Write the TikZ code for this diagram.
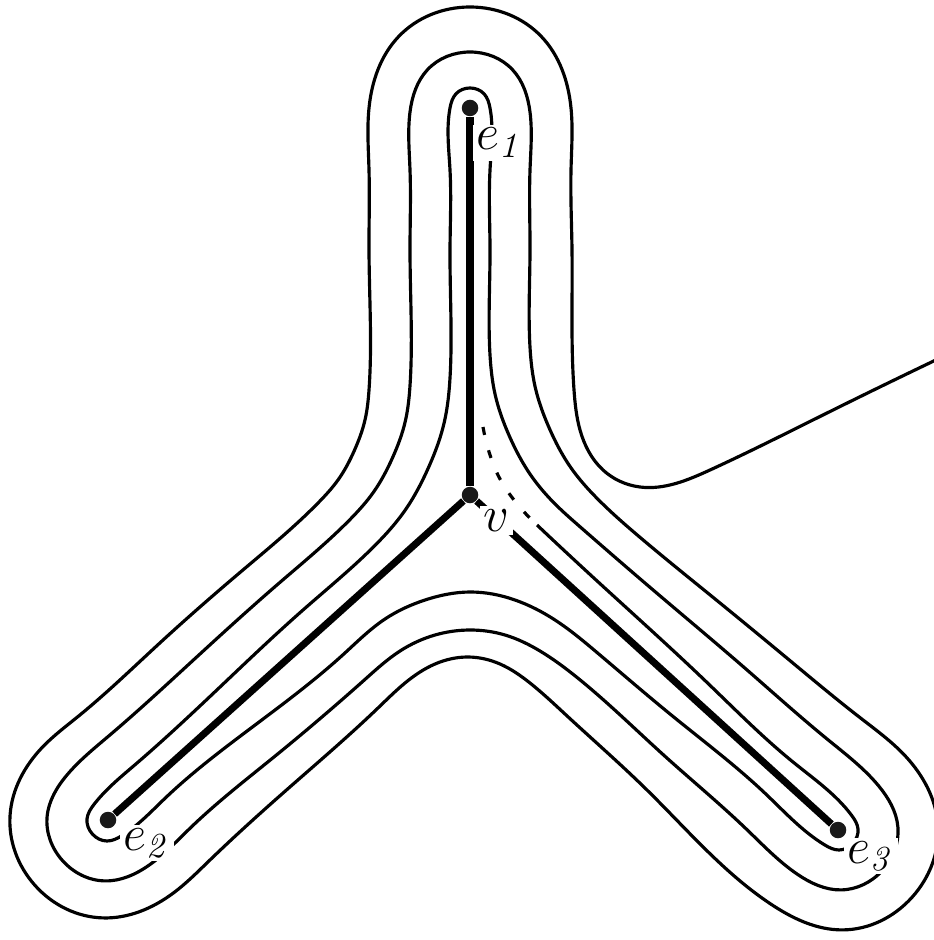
\documentclass[tikz,border=0pt]{standalone}
\usepackage{tikz}
\usetikzlibrary{hobby}

\begin{document}
\begin{tikzpicture}[
  x=0.01cm, y=-0.01cm,
  vertex/.style={circle, fill=black!90, inner sep=0pt, minimum size=0.165cm},
  treeedge/.style={line width=2pt},
  loopline/.style={line width=0.9pt, line join=round, use Hobby shortcut},
  lbl/.style={fill=white, inner sep=1pt, font=\Large, anchor=base west}
]
\useasboundingbox (0,0) rectangle (933,940);
% the curve winding three times round the tree
\draw[loopline, dash pattern=on 2.3pt off 4.5pt]
  (483,427) .. (490,455) .. (500,479) .. (514,500) .. (537,525);
\draw[loopline]
  (537,525) .. (595.7,579.7) .. (706,681.5) .. (794.1,762.9) .. (851.5,815.2)
  .. (858,829.1) .. (852.8,843.5) .. (839,850) .. (824.5,844.8)
  .. (765.8,794) .. (673.7,717) .. (597,652.5) .. (555,620) .. (515,600)
  .. (470,592) .. (425,600) .. (385,619) .. (343.9,653.9)
  .. (249.9,728.9) .. (164.7,798.6) .. (122,835.6)
  .. (106.9,841) .. (92.4,834) .. (87,818.9) .. (94,804.4)
  .. (134.6,765.1) .. (215.9,690.9) .. (303.8,609.3) .. (375.6,544.8)
  .. (404.5,511.1) .. (428.2,468.2) .. (444.3,422.1) .. (450,378)
  .. (450,250) .. (450,170) .. (450,108)
  .. (455.9,93.9) .. (470,88) .. (484.1,93.9) .. (490,108)
  .. (490,170) .. (490,250) .. (490,355) .. (495.2,394.9) .. (509.5,436.4)
  .. (530.5,474.8) .. (556.6,505.5) .. (578,525)
  .. (653.6,590.4) .. (745,668.2) .. (828.4,740.1) .. (878.4,785.6)
  .. (897.9,827.2) .. (882.4,870.4) .. (840.8,889.9) .. (797.6,874.4)
  .. (746.9,829.6) .. (664.9,756.2) .. (575.5,676.2) .. (540,651)
  .. (505,635) .. (470,630) .. (435,635) .. (400,651) .. (366,678.5)
  .. (274.7,756.4) .. (190.7,827.6) .. (148.7,865.4)
  .. (104.7,880.9) .. (62.6,860.7) .. (47.1,816.7) .. (67.3,774.6)
  .. (108.6,736.1) .. (190.5,662.7) .. (279.8,582.5) .. (350.5,519)
  .. (373.6,492) .. (392.5,457.8) .. (405.4,420.8) .. (410,385.6)
  .. (410,250) .. (410,170) .. (410,112)
  .. (427.6,69.6) .. (470,52) .. (512.4,69.6) .. (530,112)
  .. (530,170) .. (530,250) .. (530,347.3) .. (535.2,387.2) .. (549.5,428.7)
  .. (570.6,467.3) .. (596.6,497.9) .. (638.3,535.9)
  .. (714.1,598.2) .. (791.4,661.8) .. (861.4,718.7) .. (905.3,756)
  .. (937.9,825.3) .. (912,897.3) .. (842.7,929.9) .. (770.7,904)
  .. (647.4,790.4) .. (566.7,715.6) .. (530,683)
  .. (500,664) .. (468,657) .. (435,664) .. (405,683)
  .. (378.5,707.5) .. (289.2,787.6) .. (208.1,861.8) .. (173.5,892.9)
  .. (102.7,917.9) .. (35.1,885.5) .. (10.1,814.7) .. (42.5,747.1)
  .. (77.8,716.7) .. (159.6,643.2) .. (242.2,570.6) .. (319,502)
  .. (338.5,479.3) .. (354.3,450.6) .. (365.1,419.5) .. (369,390)
  .. (369,250) .. (369,170) .. (369,108)
  .. (398.6,36.6) .. (470,7) .. (541.4,36.6) .. (571,108)
  .. (571,170) .. (572,250) .. (572,330) .. (574,390) .. (580,430)
  .. (603,470) .. (640,487) .. (710,470) .. (827,413) .. (940,358);
% the tree
\node[vertex] (v) at (470,495) {};
\node[vertex] (e1) at (470,108) {};
\node[vertex] (e2) at (108,820) {};
\node[vertex] (e3) at (838,830) {};
\draw[treeedge] (v) -- (e1);
\draw[treeedge] (v) -- (e2);
\draw[treeedge] (v) -- (e3);
% labels
\node[lbl] (le1) at (472,150) {$e_{\mathit{1}}$};
\node[lbl] (le2) at (119,850) {$e_{\mathit{2}}$};
\node[lbl] (le3) at (843,863) {$e_{\mathit{3}}$};
\node[lbl] (lv) at (479,531) {$v$};
\end{tikzpicture}
\end{document}
